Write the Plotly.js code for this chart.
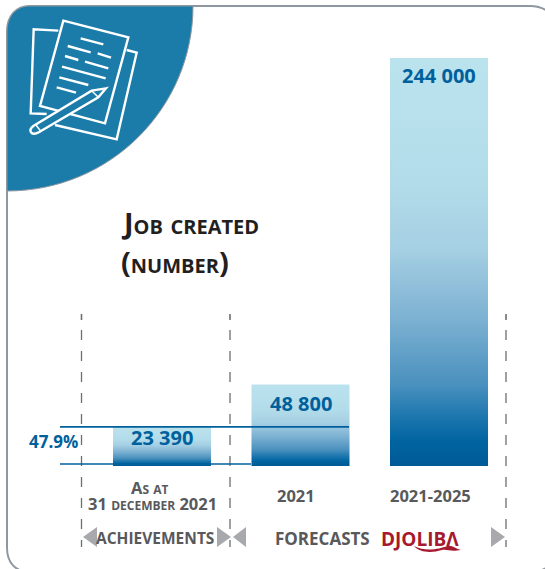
<!DOCTYPE html>
<html><head><meta charset="utf-8">
<script src="https://cdn.plot.ly/plotly-3.0.1.min.js"></script>
<style>html,body{margin:0;padding:0;background:#fff;overflow:hidden}</style>
</head><body><div id="chart" style="width:545px;height:569px"></div>
<script>
const categories = ["As at 31 december 2021", "2021", "2021-2025"];
const jobs = [23390, 48800, 244000];
const valueLabels = ["23 390", "48 800", "244 000"];
const tickLines = [["As at", "31 december 2021"], ["2021"], ["2021-2025"]];
const shareLabel = "47.9%";
const groupLabels = ["ACHIEVEMENTS", "FORECASTS"];

const W = 545, H = 569;
const X = p => p / W, Y = p => 1 - p / H;
const P = (x, y) => X(x).toFixed(5) + "," + Y(y).toFixed(5);
const FONT = "'Open Sans', 'Noto Sans', sans-serif";
const BLUE = "#00609c", GREY = "#58595b", TRI = "#a7a9ac";

function pathShape(d, fill, stroke, width) {
  return {type: "path", xref: "paper", yref: "paper", path: d,
    fillcolor: fill || "rgba(0,0,0,0)",
    line: {color: stroke || "rgba(0,0,0,0)", width: width || 0}};
}
const z = (x, y) => P(x / 3, y / 3);
const poly = (pts, close) => "M" + pts.map(p => z(p[0], p[1])).join(" L") + (close ? " Z" : "");

const frame = "M" + P(7, 32) + " C" + P(7, 16) + " " + P(16, 6) + " " + P(30, 6) +
  " L" + P(530, 6) + " C" + P(545, 6) + " " + P(558, 16) + " " + P(558, 30) +
  " L" + P(558, 548) + " C" + P(558, 563) + " " + P(545, 572) + " " + P(530, 572) +
  " L" + P(30, 572) + " C" + P(16, 572) + " " + P(7, 563) + " " + P(7, 548) + " Z";
const quarter = "M" + P(7, 32) + " C" + P(7, 16) + " " + P(16, 6) + " " + P(30, 6) +
  " L" + P(193, 6) + " C" + P(193, 108) + " " + P(110, 191) + " " + P(7, 191) + " Z";

const shapes = [
  pathShape(frame, null, "#8f98a0", 2),
  pathShape(quarter, "#1b7ca9", "#8f98a0", 1),
  pathShape(poly([[175,92],[101,88],[92,340],[140,342]]), null, "#fff", 2.4),
  pathShape(poly([[380,150],[410,158],[350,418],[165,375]]), null, "#fff", 2.4),
  pathShape(poly([[190,62],[385,112],[315,370],[120,318]], true), "#1b7ca9", "#fff", 2.4)
];
[[242,115,310,133],[203,138,272,157],[293,160,333,173],[195,168,235,180],[255,185,325,205],
 [186,200,317,235],[178,232,265,255],[170,262,228,278]].forEach(s =>
  shapes.push(pathShape(poly([[s[0],s[1]],[s[2],s[3]]]), null, "#fff", 2.4)));
shapes.push(pathShape("M" + z(318,265) + " L" + z(275,272) + " L" + z(100,378) +
  " C" + z(84,390) + " " + z(92,408) + " " + z(114,398) + " L" + z(295,292) + " Z", "#1b7ca9", "#fff", 2.4));
shapes.push(pathShape(poly([[275,272],[295,292]]), null, "#fff", 1.5));
shapes.push(pathShape(poly([[108,375],[124,396]]), null, "#fff", 1.5));

[81.5, 230, 506].forEach(x => {
  shapes.push({type: "line", xref: "paper", yref: "paper", x0: X(x), x1: X(x), y0: Y(314), y1: Y(320),
    line: {color: "#6d6e71", width: 1.6}});
  shapes.push({type: "line", xref: "paper", yref: "paper", x0: X(x), x1: X(x), y0: Y(330), y1: Y(547),
    line: {color: "#6d6e71", width: 1.3, dash: "10px,11px"}});
});

shapes.push({type: "line", xref: "paper", yref: "y", x0: X(60), x1: X(349), y0: jobs[0], y1: jobs[0], line: {color: BLUE, width: 1.6}});
shapes.push({type: "line", xref: "paper", yref: "y", x0: X(60), x1: X(251), y0: 1200, y1: 1200, line: {color: BLUE, width: 1.6}});

[[[97,527],[83,537],[97,547]], [[217,527],[231,537],[217,547]], [[246,527],[233,537],[246,547]], [[491,527],[505,537],[491,547]]]
  .forEach(t => shapes.push(pathShape("M" + t.map(p => P(p[0], p[1])).join(" L") + " Z", TRI)));

shapes.push(pathShape("M" + P(414,546) + " C" + P(425,552) + " " + P(440,549) + " " + P(447,546) +
  " C" + P(452,545) + " " + P(456,549) + " " + P(461,550) + " C" + P(450,552) + " " + P(448,549) + " " + P(442,550) +
  " C" + P(432,553) + " " + P(420,553) + " " + P(414,546) + " Z", "#a6192e"));

function note(text, px, py, size, color, extra) {
  return Object.assign({xref: "paper", yref: "paper", x: X(px), y: Y(py), text: text, showarrow: false,
    xanchor: "center", yanchor: "middle", align: "center",
    font: {family: FONT, size: size, color: color, weight: 700}}, extra || {});
}
const titleFont = {family: FONT, size: 29, color: "#231f20", weight: 700, variant: "small-caps"};
const annotations = [
  note("Job created", 119, 223, 29, "#231f20", {xanchor: "left", font: titleFont}),
  note("(number)", 119, 261, 29, "#231f20", {xanchor: "left", font: titleFont}),
  note(shareLabel, 53, 441, 17, BLUE),
  note(groupLabels[0], 155, 538, 15.5, GREY),
  note(groupLabels[1], 322, 538, 17, GREY),
  note("DJOLIBΛ", 420, 539, 19, "#a6192e")
];
const labelY = [437, 403, 75];
valueLabels.forEach((t, i) => annotations.push(
  Object.assign(note(t, 0, labelY[i], 20, BLUE), {xref: "x", x: i})));
const tickY = [[487, 503], [495], [495]];
const tickShift = [[-12, -9.5], [-4.5], [-9]];
const tickVariant = ["small-caps", "normal", "normal"];
tickLines.forEach((lines, i) => lines.forEach((t, j) => annotations.push(
  Object.assign(note(t, 0, tickY[i][j], 16.5, GREY), {xref: "x", x: i, xshift: tickShift[i][j],
    height: 16, borderpad: 0,
    font: {family: FONT, size: 16.5, color: GREY, weight: 700, variant: tickVariant[i]}}))));

const trace = {type: "bar", x: categories, y: jobs, width: 98 / 138.5,
  marker: {color: "#5a9dc5", line: {width: 0}}, hoverinfo: "x+y"};

const layout = {
  width: W, height: H, margin: {l: 0, r: 0, t: 0, b: 0, pad: 0},
  paper_bgcolor: "#ffffff", plot_bgcolor: "rgba(0,0,0,0)", showlegend: false,
  xaxis: {type: "category", domain: [92.75 / W, 508.25 / W], range: [-0.5, 2.5], visible: false, fixedrange: true},
  yaxis: {domain: [(H - 466) / H, (H - 58) / H], range: [0, 244000], visible: false, fixedrange: true},
  shapes: shapes, annotations: annotations
};

Plotly.newPlot("chart", [trace], layout, {displayModeBar: false, staticPlot: true}).then(gd => {
  const svg = gd.querySelector(".main-svg");
  const NS = "http://www.w3.org/2000/svg";
  const grad = document.createElementNS(NS, "linearGradient");
  grad.id = "barFade";
  grad.setAttribute("x1", "0"); grad.setAttribute("y1", "0");
  grad.setAttribute("x2", "0"); grad.setAttribute("y2", "1");
  [[0, "#bbe3ee"], [0.31, "#b3dcea"], [0.47, "#a5cfe3"], [0.63, "#7fb3d3"], [0.80, "#4a91be"],
   [0.88, "#1c76ae"], [0.94, "#0064a0"], [1, "#005a96"]].forEach(s => {
    const st = document.createElementNS(NS, "stop");
    st.setAttribute("offset", s[0]); st.setAttribute("stop-color", s[1]);
    grad.appendChild(st);
  });
  svg.querySelector("defs").appendChild(grad);
  gd.querySelectorAll(".bars .point path").forEach(p => { p.style.fill = "url(#barFade)"; });
});
</script></body></html>
